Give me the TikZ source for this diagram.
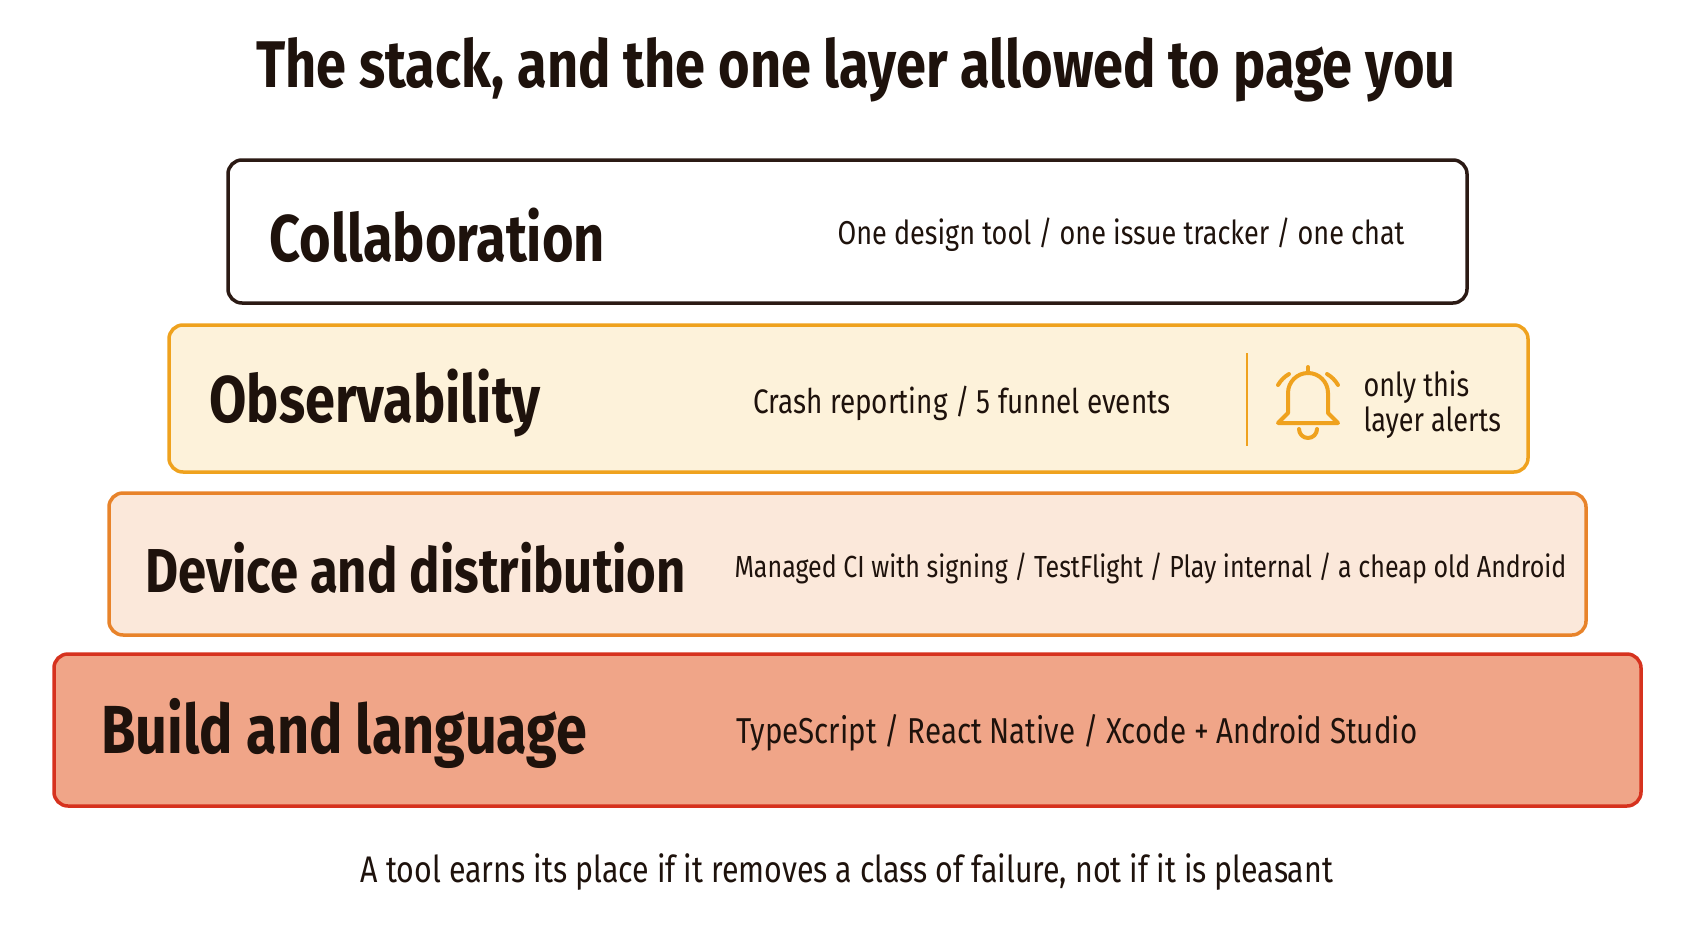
\documentclass[tikz,border=0pt]{standalone}
\usepackage{fontspec}
\setmainfont{Fira Sans}[FakeStretch=0.82]
\begin{document}
\begin{tikzpicture}[x=1pt,y=-1pt,
  layer/.style={rounded corners=14pt,line width=3.5pt},
  big/.style={anchor=west,font=\fontsize{66}{70}\selectfont\bfseries,text=ink},
  desc/.style={anchor=west,font=\fontsize{33}{36}\selectfont\mdseries,text=ink}]
\definecolor{ink}{HTML}{1E120C}
\definecolor{obsb}{HTML}{EFA21E}\definecolor{obsf}{HTML}{FDF2DA}
\definecolor{devb}{HTML}{E8832A}\definecolor{devf}{HTML}{FBE8DA}
\definecolor{bldb}{HTML}{D6321E}\definecolor{bldf}{HTML}{F0A588}
\definecolor{colb}{HTML}{2B1A14}
\useasboundingbox[fill=white] (0,0) rectangle (1692,929);
\node[font=\fontsize{66}{70}\selectfont\bfseries,text=ink] (title) at (856,70) {The stack, and the one layer allowed to page you};
\draw[layer,draw=colb,fill=white] (228,160) rectangle (1467,303);
\node[big] (c) at (266,235) {Collaboration};
\node[desc] (cd) at (834,235) {One design tool / one issue tracker / one chat};
\draw[layer,draw=obsb,fill=obsf] (169,325) rectangle (1528,472);
\node[big] (o) at (206,403) {Observability};
\node[desc,font=\fontsize{34}{36}\selectfont] (od) at (750,403) {Crash reporting / 5 funnel events};
\draw[obsb,line width=2.5pt] (1247,353) -- (1247,446);
\begin{scope}[shift={(1308,405)},draw=obsb,line width=4pt,line cap=round,line join=round]
 \draw (-30,18) -- (-20,8) -- (-20,-12) arc[start angle=180,end angle=360,radius=20] -- (20,8) -- (30,18) -- cycle;
 \draw (0,-32) -- (0,-38);
 \draw (-9,24) arc[start angle=180,end angle=0,radius=9];
 \draw (-30,-20) arc[start angle=210,end angle=240,radius=30];
 \draw (30,-20) arc[start angle=330,end angle=300,radius=30];
\end{scope}
\node[desc,align=left,font=\fontsize{33}{35}\selectfont] (oa) at (1360,405) {only this\\layer alerts};
\draw[layer,draw=devb,fill=devf] (109,493) rectangle (1586,635);
\node[big,font=\fontsize{62}{66}\selectfont\bfseries] (d) at (142,568) {Device and distribution};
\node[desc,font=\fontsize{30.5}{34}\selectfont] (dd) at (731,568) {Managed CI with signing / TestFlight / Play internal / a cheap old Android};
\draw[layer,draw=bldb,fill=bldf] (54,654) rectangle (1641,806);
\node[big,font=\fontsize{68}{70}\selectfont\bfseries] (b) at (98,733) {Build and language};
\node[desc,font=\fontsize{36}{38}\selectfont] (bd) at (733,733) {TypeScript / React Native / Xcode + Android Studio};
\node[font=\fontsize{37}{40}\selectfont,text=ink] (foot) at (847,872) {A tool earns its place if it removes a class of failure, not if it is pleasant};
\end{tikzpicture}
\end{document}
